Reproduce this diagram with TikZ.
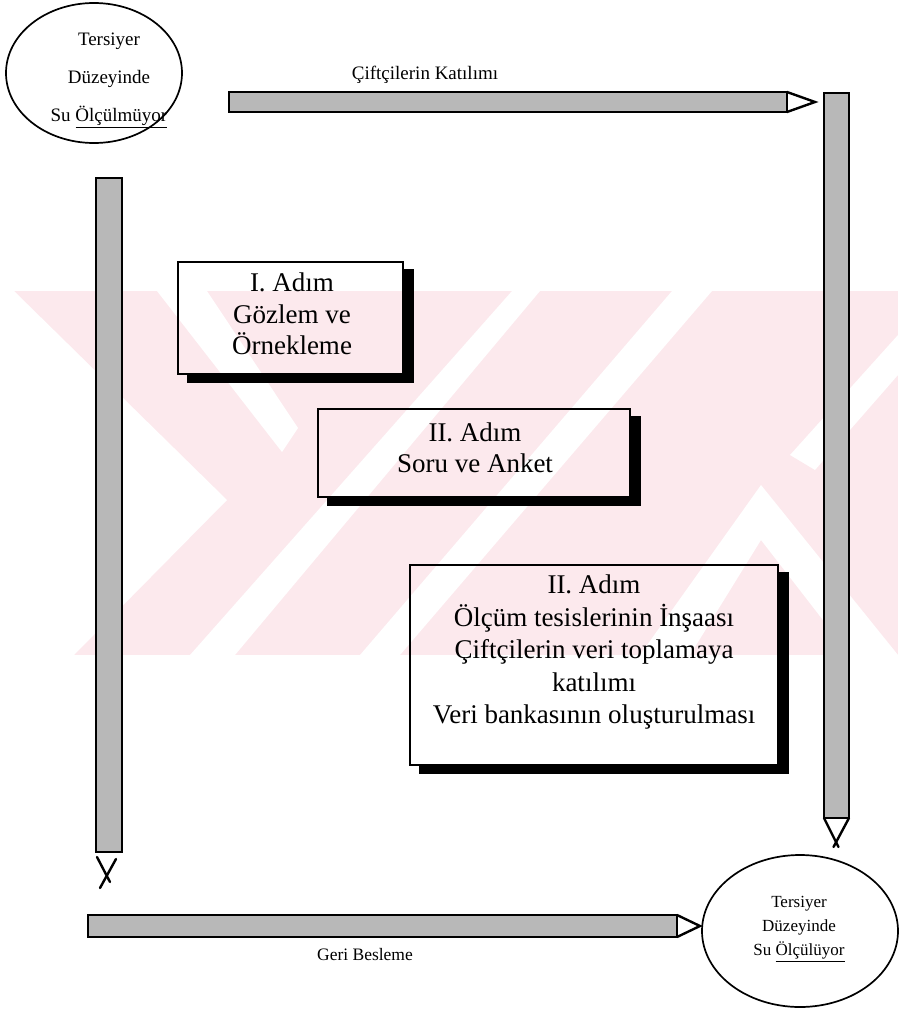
\documentclass[tikz,border=0pt]{standalone}
\usepackage{fontspec}
\setmainfont{Liberation Serif}
\usetikzlibrary{shapes.geometric}
\definecolor{wmark}{RGB}{252,233,237}
\definecolor{barfill}{RGB}{184,184,184}
\tikzset{
  ring/.style={draw, ellipse, line width=1.7pt, inner sep=0pt},
  stepbox/.style={draw, line width=1.8pt, inner sep=0pt},
  shade/.style={fill=black},
  bar/.style={draw, line width=2.2pt, fill=barfill},
  tip/.style={draw, line width=2.4pt, line cap=round, line join=miter},
  boxtext/.style={font=\fontsize{27}{31.5}\selectfont, align=center, inner sep=0pt},
  ringtext/.style={font=\fontsize{19}{38}\selectfont, align=center, inner sep=0pt},
  lowringtext/.style={font=\fontsize{17}{24}\selectfont, align=center, inner sep=0pt},
  label/.style={font=\fontsize{18}{21}\selectfont, inner sep=0pt},
}
% black drop shadow on the right and bottom of a step box
\newcommand\boxshade[1]{%
  \fill[shade] ([yshift=-8pt]#1.north east) -- ++(10,0)
    -- ([shift={(10pt,-8pt)}]#1.south east)
    -- ([shift={(10pt,-8pt)}]#1.south west)
    -- ([xshift=10pt]#1.south west) -- (#1.south east) -- cycle;}

\begin{document}
\begin{tikzpicture}[x=1pt,y=-1pt]
\useasboundingbox (0,0) rectangle (898,1009);
\fill[white] (0,0) rectangle (898,1009);

% background emblem
\fill[wmark] (14,291) rectangle (898,655);
\fill[white] (0,291) -- (14,291) -- (227,500) -- (74,655) -- (0,655) -- cycle;
\fill[white] (157,291) -- (207,291) -- (298,428) -- (282,452) -- cycle;
\fill[white] (190,655) -- (235,655) -- (540,291) -- (512,291) -- cycle;
\fill[white] (360,655) -- (400,655) -- (712,291) -- (672,291) -- cycle;
\fill[white] (640,655) -- (761,485) -- (898,655) -- (850,655) -- (761,540) -- (690,655) -- cycle;
\fill[white] (790,455) -- (898,335) -- (898,375) -- (815,470) -- cycle;

% start and end states
\node[ring, minimum width=176pt, minimum height=140pt] (from) at (94,73) {};
\node[ringtext] (fromtext) at (109,80) {Tersiyer\\Düzeyinde\\Su \underline{Ölçülmüyor}};
\node[ring, minimum width=196pt, minimum height=152pt] (to) at (800,931) {};
\node[lowringtext] (totext) at (799,929) {Tersiyer\\Düzeyinde\\Su \underline{Ölçülüyor}};

% steps
\node[stepbox, minimum width=225pt, minimum height=112pt] (s1) at (290.5,318) {};
\boxshade{s1}
\node[boxtext] (s1text) at (292,314) {I. Adım\\Gözlem ve\\Örnekleme};

\node[stepbox, minimum width=312pt, minimum height=88pt] (s2) at (474,453) {};
\boxshade{s2}
\node[boxtext] (s2text) at (475,448) {II. Adım\\Soru ve Anket};

\node[stepbox, minimum width=368pt, minimum height=200pt] (s3) at (594,665) {};
\boxshade{s3}
\node[boxtext, font=\fontsize{27}{32.5}\selectfont] (s3text) at (594,652)
  {II. Adım\\Ölçüm tesislerinin İnşaası\\Çiftçilerin veri toplamaya\\katılımı\\Veri bankasının oluşturulması};

% top arrow: participation of the farmers
\coordinate (topA) at (229,92);
\coordinate (topB) at (787,112);
\coordinate (topTip) at (815,102);
\draw[bar] (topA) rectangle (topB);
\draw[tip] (topB |- topA) -- (topTip) -- (topB);
\node[label, font=\fontsize{19}{22}\selectfont] (toplabel) at (425,75) {Çiftçilerin Katılımı};

% right arrow down to the measured state
\coordinate (rA) at (824,93);
\coordinate (rB) at (849,818);
\draw[bar] (rA) rectangle (rB);
\draw[tip] (rA |- rB) -- (838.5,847);
\draw[tip] (rB) -- (833.5,847);

% left arrow down
\coordinate (lA) at (96,178);
\coordinate (lB) at (122,852);
\draw[bar] (lA) rectangle (lB);
\draw[tip] (97,857) -- (110,882);
\draw[tip] (116,859) -- (100,888);

% bottom arrow: feedback
\coordinate (bA) at (88,915);
\coordinate (bB) at (677,937);
\coordinate (bTip) at (700,926);
\draw[bar] (bA) rectangle (bB);
\draw[tip] (bB |- bA) -- (bTip) -- (bB);
\node[label, font=\fontsize{17.5}{21}\selectfont] (botlabel) at (365,955) {Geri Besleme};
\end{tikzpicture}
\end{document}
